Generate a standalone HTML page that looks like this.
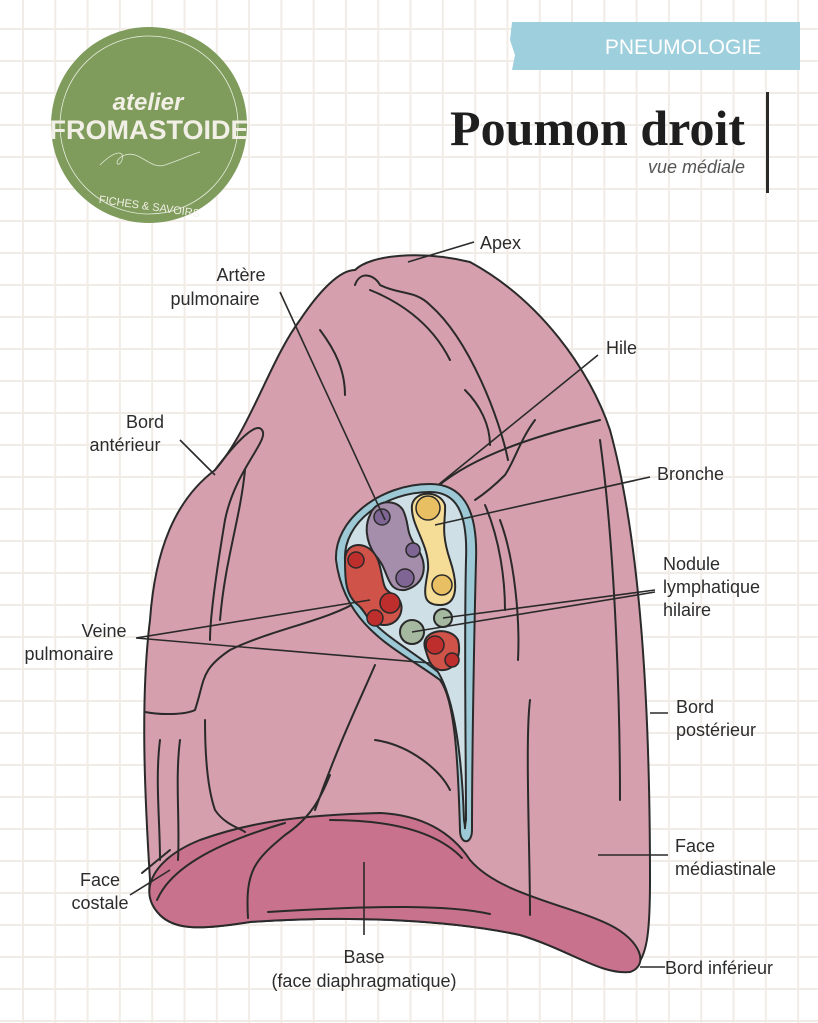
<!DOCTYPE html>
<html><head><meta charset="utf-8"><style>
html,body{margin:0;padding:0}
body{width:818px;height:1023px;background-color:#fff;
background-image:linear-gradient(to right,#f1ece6 2px,transparent 2px),linear-gradient(to bottom,#f1ece6 2px,transparent 2px);
background-size:32.3px 32px;background-position:22px 28px}
svg{display:block}
text{font-family:"Liberation Sans",sans-serif;fill:#2c2c2c}
</style></head><body>
<svg width="818" height="1023" viewBox="0 0 818 1023" xmlns="http://www.w3.org/2000/svg">

<!-- logo -->
<circle cx="149" cy="125" r="98" fill="#7f9c5c"/>
<circle cx="149" cy="125" r="89" fill="none" stroke="#e8ede0" stroke-width="0.8"/>
<text x="148" y="110" font-size="24" font-style="italic" font-weight="bold" text-anchor="middle" style="fill:#f2efe6">atelier</text>
<text x="149" y="139" font-size="27" font-weight="bold" text-anchor="middle" style="fill:#f2efe6">FROMASTOIDE</text>
<path d="M100 165 C115 150,125 150,122 160 C118 170,112 160,125 155 C140 150,150 170,165 165 C180 160,190 155,200 152" stroke="#dfe6d3" fill="none" stroke-width="0.8"/>
<text x="149" y="210" font-size="11" text-anchor="middle" style="fill:#f2efe6" transform="rotate(8 149 210)">FICHES &amp; SAVOIRS</text>

<!-- header -->
<path d="M512 22 L800 22 L800 70 L512 70 L515 55 L510 40 Z" fill="#9ecfdc"/>
<text x="683" y="54" font-size="21" text-anchor="middle" style="fill:#fff">PNEUMOLOGIE</text>
<text x="745" y="145" font-size="50" font-weight="bold" text-anchor="end" style="font-family:'Liberation Serif',serif;fill:#1e1e1e">Poumon droit</text>
<text x="745" y="173" font-size="18" font-style="italic" text-anchor="end" style="fill:#555">vue médiale</text>
<rect x="766" y="92" width="3" height="101" fill="#2a2a2a"/>

<!-- lung -->
<g stroke="#2a2a2a" stroke-width="2" stroke-linecap="round" fill="none">
<path d="M355 270 C370 255,420 250,470 262 C540 300,590 370,610 430 C640 540,650 700,650 880 C650 930,648 962,630 971 C600 975,570 950,520 935 C450 920,350 915,250 922 C200 930,175 930,160 915 C150 905,148 895,150 880 C145 800,140 700,150 620 C155 550,175 500,215 470 C250 430,270 360,300 320 C320 290,340 270,355 270 Z" fill="#d59fad"/>
<path d="M150 885 C155 865,175 850,200 840 C250 822,300 815,380 813 C420 815,450 830,470 860 C500 895,570 905,610 925 C640 940,650 965,630 972 C600 975,570 950,520 935 C450 920,350 915,250 922 C200 930,175 930,160 915 C150 905,148 895,150 885 Z" fill="#c8728e"/>
<path d="M157 900 C170 870,210 845,285 823"/>
<path d="M248 918 C245 870,255 860,285 835 C310 818,320 800,330 775"/>
<path d="M268 912 C380 905,450 905,490 914"/>
<path d="M330 820 C400 820,440 835,462 858"/>
<path d="M355 285 C360 270,375 275,380 285 C400 295,415 290,430 305 C470 340,500 420,508 460"/>
<path d="M370 290 C395 300,430 320,450 360"/>
<path d="M320 330 C335 350,345 370,345 395"/>
<path d="M465 390 C480 405,490 425,490 445"/>
<path d="M215 470 C230 450,255 420,262 430 C270 440,235 470,225 520 C215 580,210 620,210 640"/>
<path d="M245 470 C240 520,225 560,220 620"/>
<path d="M145 712 C160 715,185 715,195 710 C205 680,200 670,230 650 C270 630,330 620,360 600"/>
<path d="M437 487 C480 450,560 430,600 420"/>
<path d="M475 500 C490 490,500 480,505 475 C515 460,520 440,535 420"/>
<path d="M375 665 C360 700,340 740,315 810"/>
<path d="M160 860 C160 820,155 780,160 740"/>
<path d="M178 860 C180 820,175 780,180 740"/>
<path d="M205 720 C205 760,208 790,215 810 C225 825,240 828,245 832"/>
<path d="M375 740 C410 745,440 770,450 790"/>
<path d="M530 915 C530 850,525 740,530 700"/>
<path d="M600 440 C615 550,620 700,620 800"/>
<path d="M500 520 C515 560,520 620,518 660"/>
<path d="M485 505 C500 540,505 580,505 610"/>
<path d="M170 850 L142 873"/>
</g>

<!-- hilum -->
<g stroke="#2a2a2a" stroke-width="2" stroke-linejoin="round">
<path d="M430 484 C460 484,478 505,476 560 C474 640,472 760,472 830 C472 845,460 845,460 830 C458 760,455 700,440 680 C400 650,345 630,336 560 C334 520,380 484,430 484 Z" fill="#9dc9d6"/>
<path d="M430 492 C455 492,468 510,466 560 C464 640,466 760,466 820 C464 830,466 832,464 820 C462 760,455 700,438 672 C400 640,348 622,345 560 C343 522,385 492,430 492 Z" fill="#cfdfe6"/>
<path d="M370 515 C375 500,395 498,403 510 C410 525,405 530,415 545 C430 565,425 585,405 590 C385 592,390 570,375 555 C365 540,365 525,370 515 Z" fill="#a48eab"/>
<path d="M412 505 C415 490,440 490,445 505 C446 520,440 530,450 560 C460 590,455 605,440 605 C420 605,425 590,428 570 C430 545,410 525,412 505 Z" fill="#f5dc97"/>
<path d="M345 560 C345 540,370 540,378 560 C385 580,380 590,395 595 C408 605,400 625,385 625 C365 625,370 615,358 605 C345 595,345 578,345 560 Z" fill="#d0534a"/>
<path d="M425 648 C420 630,450 625,458 640 C462 655,455 672,440 670 C430 668,428 658,425 648 Z" fill="#d0534a"/>
<circle cx="443" cy="618" r="9" fill="#a5b8a0"/>
<circle cx="412" cy="632" r="12" fill="#a5b8a0"/>
</g>
<g fill="#7f6594" stroke="#2a2a2a" stroke-width="1.5">
<circle cx="382" cy="517" r="8"/><circle cx="405" cy="578" r="9"/><circle cx="413" cy="550" r="7"/>
</g>
<g fill="#e8bf63" stroke="#2a2a2a" stroke-width="1.5">
<circle cx="428" cy="508" r="12"/><circle cx="442" cy="585" r="10"/>
</g>
<g fill="#bd2e2c" stroke="#2a2a2a" stroke-width="1.5">
<circle cx="356" cy="560" r="8"/><circle cx="390" cy="603" r="10"/><circle cx="375" cy="618" r="8"/><circle cx="435" cy="645" r="9"/><circle cx="452" cy="660" r="7"/>
</g>

<!-- leader lines -->
<g stroke="#2a2a2a" stroke-width="1.6" fill="none">
<path d="M408 262 L474 242"/>
<path d="M280 292 L385 520"/>
<path d="M438 485 L598 355"/>
<path d="M435 525 L650 477"/>
<path d="M443 618 L655 590 M412 632 L655 592"/>
<path d="M136 638 L370 600 M136 638 L430 663"/>
<path d="M180 440 L215 475"/>
<path d="M650 713 L668 713"/>
<path d="M598 855 L668 855"/>
<path d="M130 895 L170 870"/>
<path d="M364 862 L364 935"/>
<path d="M640 967 L665 967"/>
</g>

<g font-size="18">
<text x="480" y="249">Apex</text>
<text x="241" y="281" text-anchor="middle">Artère</text>
<text x="215" y="305" text-anchor="middle">pulmonaire</text>
<text x="606" y="354">Hile</text>
<text x="145" y="428" text-anchor="middle">Bord</text>
<text x="125" y="451" text-anchor="middle">antérieur</text>
<text x="657" y="480">Bronche</text>
<text x="663" y="570">Nodule</text>
<text x="663" y="593">lymphatique</text>
<text x="663" y="616">hilaire</text>
<text x="104" y="637" text-anchor="middle">Veine</text>
<text x="69" y="660" text-anchor="middle">pulmonaire</text>
<text x="676" y="713">Bord</text>
<text x="676" y="736">postérieur</text>
<text x="675" y="852">Face</text>
<text x="675" y="875">médiastinale</text>
<text x="100" y="886" text-anchor="middle">Face</text>
<text x="100" y="909" text-anchor="middle">costale</text>
<text x="364" y="963" text-anchor="middle">Base</text>
<text x="364" y="987" text-anchor="middle">(face diaphragmatique)</text>
<text x="665" y="974">Bord inférieur</text>
</g>
</svg>
</body></html>
